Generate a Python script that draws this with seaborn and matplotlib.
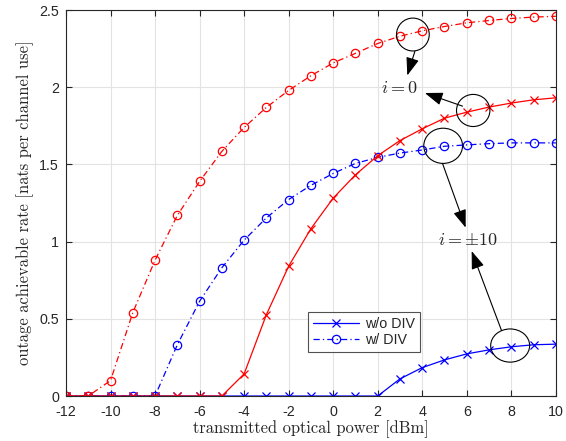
import numpy as np
import pandas as pd
import matplotlib
matplotlib.use("Agg")
import matplotlib.pyplot as plt
from matplotlib.patches import Ellipse
import seaborn as sns

power = list(range(-12, 11))
red_wdiv = [0, 0, 0.10, 0.54, 0.88, 1.17, 1.39, 1.585, 1.74, 1.87, 1.98, 2.075,
            2.158, 2.22, 2.284, 2.331, 2.366, 2.394, 2.418, 2.433, 2.446, 2.455, 2.46]
red_wodiv = [0, 0, 0, 0, 0, 0, 0, 0, 0.143, 0.527, 0.841, 1.084,
             1.282, 1.433, 1.557, 1.655, 1.731, 1.80, 1.839, 1.872, 1.898, 1.919, 1.932]
blue_wdiv = [0, 0, 0, 0, 0, 0.332, 0.614, 0.831, 1.01, 1.154, 1.273, 1.365,
             1.442, 1.507, 1.546, 1.574, 1.594, 1.618, 1.627, 1.635, 1.64, 1.64, 1.64]
blue_wodiv = [0, 0, 0, 0, 0, 0, 0, 0, 0, 0, 0, 0,
              0, 0, 0, 0.111, 0.184, 0.234, 0.273, 0.299, 0.319, 0.332, 0.336]
xticks = list(range(-12, 11, 2))
yticks = [0, 0.5, 1, 1.5, 2, 2.5]
ytick_labels = ["0", "0.5", "1", "1.5", "2", "2.5"]
legend_labels = ["w/o DIV", "w/ DIV"]

sns.set_style("ticks")
plt.rcParams["font.family"] = ["Liberation Sans", "DejaVu Sans"]
plt.rcParams["mathtext.fontset"] = "cm"
plt.rcParams["axes.unicode_minus"] = False

fig = plt.figure(figsize=(5.66, 4.41), dpi=100)
ax = fig.add_axes([0.1166, 0.102, 0.8654, 0.875])

dashdot = (0, (5, 2.5, 1, 2.5))
common = dict(ax=ax, linewidth=0.9, markersize=6, markerfacecolor="none",
              markeredgewidth=0.9, legend=False, errorbar=None)

sns.lineplot(x=power, y=blue_wodiv, color="#0000ff", marker="x", linestyle="-",
             markeredgecolor="#0000ff", **common)
sns.lineplot(x=power, y=blue_wdiv, color="#0000ff", marker="o", linestyle=dashdot,
             markeredgecolor="#0000ff", **common)
sns.lineplot(x=power, y=red_wodiv, color="#ff0000", marker="x", linestyle="-",
             markeredgecolor="#ff0000", **common)
sns.lineplot(x=power, y=red_wdiv, color="#ff0000", marker="o", linestyle=dashdot,
             markeredgecolor="#ff0000", **common)

ax.set_xlim(-12, 10)
ax.set_ylim(0, 2.5)
ax.set_xticks(xticks)
ax.set_xticklabels([str(v) for v in xticks])
ax.set_yticks(yticks)
ax.set_yticklabels(ytick_labels)
ax.grid(True, color="#e3e3e3", linewidth=0.8)
ax.set_axisbelow(True)
for s in ax.spines.values():
    s.set_visible(True)
    s.set_color("#262626")
    s.set_linewidth(0.8)
ax.tick_params(direction="in", top=True, right=True, length=4, width=0.8,
               colors="#262626", labelsize=10.3)
ax.tick_params(axis="x", pad=6.5)
ax.tick_params(axis="y", pad=5)

ax.set_xlabel("transmitted optical power [dBm]", family="cmr10", fontsize=11.9,
              color="#262626", labelpad=1)
ax.set_ylabel("outage achievable rate [nats per channel use]", family="cmr10",
              fontsize=11.9, color="#262626", labelpad=4)

# legend (blue handles)
handles = [ax.lines[0], ax.lines[1]]
leg = ax.legend(handles, legend_labels, loc="lower left",
                bbox_to_anchor=(0.494, 0.115), fontsize=10.3, frameon=True,
                fancybox=False, edgecolor="#262626", handlelength=3.2,
                borderpad=0.35, labelspacing=0.1, handletextpad=0.45,
                borderaxespad=0)
leg.get_frame().set_linewidth(0.8)

# ellipses
for (cx, cy, w, h) in [(3.58, 2.342, 1.47, 0.213), (6.29, 1.85, 1.50, 0.208),
                       (4.94, 1.621, 1.74, 0.228), (7.95, 0.327, 1.75, 0.215)]:
    ax.add_patch(Ellipse((cx, cy), w, h, fill=False, edgecolor="black", lw=0.8, zorder=5))

arrowprops = dict(arrowstyle="-|>,head_length=1.1,head_width=0.4", color="black",
                  lw=0.8, shrinkA=0, shrinkB=0)
ax.annotate("", xy=(3.33, 2.077), xytext=(3.67, 2.233), arrowprops=arrowprops)
ax.annotate("", xy=(4.12, 1.963), xytext=(5.81, 1.878), arrowprops=arrowprops)
ax.annotate("", xy=(5.95, 1.091), xytext=(4.91, 1.507), arrowprops=arrowprops)
ax.annotate("", xy=(6.22, 0.939), xytext=(7.56, 0.425), arrowprops=arrowprops)

ax.text(3.0, 1.99, r"$i=0$", ha="center", va="center", fontsize=13, color="#262626")
ax.text(6.05, 1.01, r"$i=\pm10$", ha="center", va="center", fontsize=13, color="#262626")

fig.savefig("out.png", dpi=100)
